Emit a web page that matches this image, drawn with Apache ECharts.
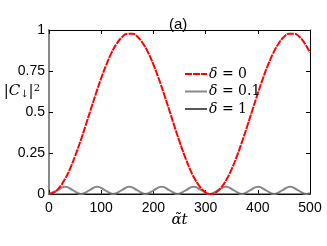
<!DOCTYPE html>
<html>
<head>
<meta charset="utf-8">
<script src="https://cdn.jsdelivr.net/npm/echarts@6/dist/echarts.min.js"></script>
<style>html,body{margin:0;padding:0;background:#fff}#c{width:327px;height:246px}</style>
</head>
<body>
<div id="c"></div>
<script>
// Data
var xTicks = [0, 100, 200, 300, 400, 500];
var yTicks = [0, 0.25, 0.5, 0.75, 1];
var seriesNames = ['δ = 0', 'δ = 0.1', 'δ = 1'];

// δ = 0 (red dashed), sampled every 10 units of α̃t
var redT = [0,10,20,30,40,50,60,70,80,90,100,110,120,130,140,150,160,170,180,190,200,
  210,220,230,240,250,260,270,280,290,300,310,320,330,340,350,360,370,380,390,400,
  410,420,430,440,450,460,470,480,490,500];
var redV = [0,0.010,0.040,0.088,0.152,0.231,0.320,0.416,0.515,0.613,0.706,0.790,0.862,0.918,0.957,0.977,0.977,0.957,0.918,0.862,0.790,
  0.706,0.613,0.515,0.416,0.320,0.231,0.152,0.088,0.040,0.010,0,0.010,0.040,0.088,0.152,0.231,0.320,0.416,0.515,0.613,
  0.706,0.790,0.862,0.918,0.957,0.977,0.977,0.957,0.918,0.862];

// δ = 0.1 (gray), minima / mid / peaks
var grayT = [0,15.4,30.8,46.2,61.6,77,92.4,107.8,123.2,138.6,154,169.4,184.8,200.2,215.6,231,246.4,
  261.8,277.2,292.6,308,323.4,338.8,354.2,369.6,385,400.4,415.8,431.2,446.6,462,477.4,492.8,500];
var grayV = [0,0.022,0.044,0.022,0,0.022,0.044,0.022,0,0.022,0.044,0.022,0,0.022,0.044,0.022,0,
  0.022,0.044,0.022,0,0.022,0.044,0.022,0,0.022,0.044,0.022,0,0.022,0.044,0.022,0,0.006];

// δ = 1 (thin gray), essentially zero
var oneT = [0,100,200,300,400,500];
var oneV = [0,0.001,0.001,0.001,0.001,0.001];

function pairs(t, v){ return t.map(function(x,i){ return [x, v[i]]; }); }

var sansFont = '"Liberation Sans", Arial, sans-serif';
var serifFont = '"DejaVu Serif", "Liberation Serif", serif';
var chart = echarts.init(document.getElementById('c'), null, {renderer:'canvas'});
var option = {
  animation: false,
  backgroundColor: '#fff',
  title: {
    text: '(a)', left: 164, top: 12,
    textStyle: {fontFamily: sansFont, fontSize: 15, fontWeight: 'normal', color: '#000'}
  },
  grid: {left: 49, right: 17, top: 30, bottom: 52, containLabel: false, outerBoundsMode: 'none'},
  legend: {
    left: 179, top: 62, orient: 'vertical',
    itemWidth: 22, itemHeight: 14, itemGap: 3.5,
    data: seriesNames,
    itemStyle: {opacity: 0},
    formatter: function(n){ return '{d|δ}{r|' + n.slice(1) + '}'; },
    textStyle: {
      fontFamily: serifFont, fontSize: 14, color: '#000', padding: [0,0,0,-3],
      rich: {
        d: {fontFamily: serifFont, fontStyle: 'italic', fontSize: 14, color: '#000'},
        r: {fontFamily: serifFont, fontSize: 14, color: '#000'}
      }
    }
  },
  xAxis: [{
    type: 'value', min: 0, max: 500, interval: 100,
    name: '{a|α̃}{t|t}', nameLocation: 'middle', nameGap: 19, nameMoveOverlap: false,
    nameTextStyle: {
      rich: {
        a: {fontFamily: serifFont, fontStyle: 'italic', fontSize: 15, color: '#000'},
        t: {fontFamily: serifFont, fontStyle: 'italic', fontSize: 15, color: '#000'}
      }
    },
    axisLine: {onZero: false, lineStyle: {color: '#000', width: 1}},
    axisTick: {inside: true, length: 4, lineStyle: {color: '#000'}},
    axisLabel: {fontFamily: sansFont, fontSize: 14, color: '#000', margin: 7,
      formatter: function(v){ return xTicks.indexOf(v) >= 0 ? String(v) : ''; }},
    splitLine: {show: false}
  }, {
    type: 'value', position: 'top', min: 0, max: 500, interval: 100,
    axisLine: {onZero: false, lineStyle: {color: '#000', width: 1}},
    axisTick: {inside: true, length: 4, lineStyle: {color: '#000'}},
    axisLabel: {show: false}, splitLine: {show: false}
  }],
  yAxis: [{
    type: 'value', min: 0, max: 1, interval: 0.25,
    name: '|{c|C}{s|↓}|{p|2}', nameLocation: 'middle', nameRotate: 0, nameGap: 9, nameMoveOverlap: false,
    nameTextStyle: {
      fontFamily: serifFont, fontSize: 15, color: '#000', padding: [0,0,42,0],
      rich: {
        c: {fontFamily: serifFont, fontStyle: 'italic', fontSize: 15, color: '#000'},
        s: {fontFamily: serifFont, fontSize: 10, color: '#000', verticalAlign: 'bottom', padding: [6,0,0,0]},
        p: {fontFamily: serifFont, fontSize: 10, color: '#000', verticalAlign: 'top', padding: [0,0,6,0]}
      }
    },
    axisLine: {onZero: false, lineStyle: {color: '#888', width: 2}},
    axisTick: {inside: true, length: 4, lineStyle: {color: '#000'}},
    axisLabel: {fontFamily: sansFont, fontSize: 14, color: '#000', margin: 4,
      formatter: function(v){ return yTicks.indexOf(v) >= 0 ? String(v) : ''; }},
    splitLine: {show: false}
  }, {
    type: 'value', position: 'right', min: 0, max: 1, interval: 0.25,
    axisLine: {onZero: false, lineStyle: {color: '#000', width: 1}},
    axisTick: {inside: true, length: 4, lineStyle: {color: '#000'}},
    axisLabel: {show: false}, splitLine: {show: false}
  }],
  series: [{
    name: seriesNames[0], type: 'line', smooth: true, symbol: 'none',
    data: pairs(redT, redV), z: 3,
    lineStyle: {color: '#ff0000', width: 2, type: [7, 1]},
    itemStyle: {color: '#ff0000'}
  }, {
    name: seriesNames[1], type: 'line', smooth: true, symbol: 'none',
    data: pairs(grayT, grayV), z: 2,
    lineStyle: {color: '#888888', width: 2},
    itemStyle: {color: '#888888'}
  }, {
    name: seriesNames[2], type: 'line', smooth: true, symbol: 'none',
    data: pairs(oneT, oneV), z: 2,
    lineStyle: {color: '#555555', width: 1},
    itemStyle: {color: '#555555'}
  }]
};
chart.setOption(option);
</script>
</body>
</html>
